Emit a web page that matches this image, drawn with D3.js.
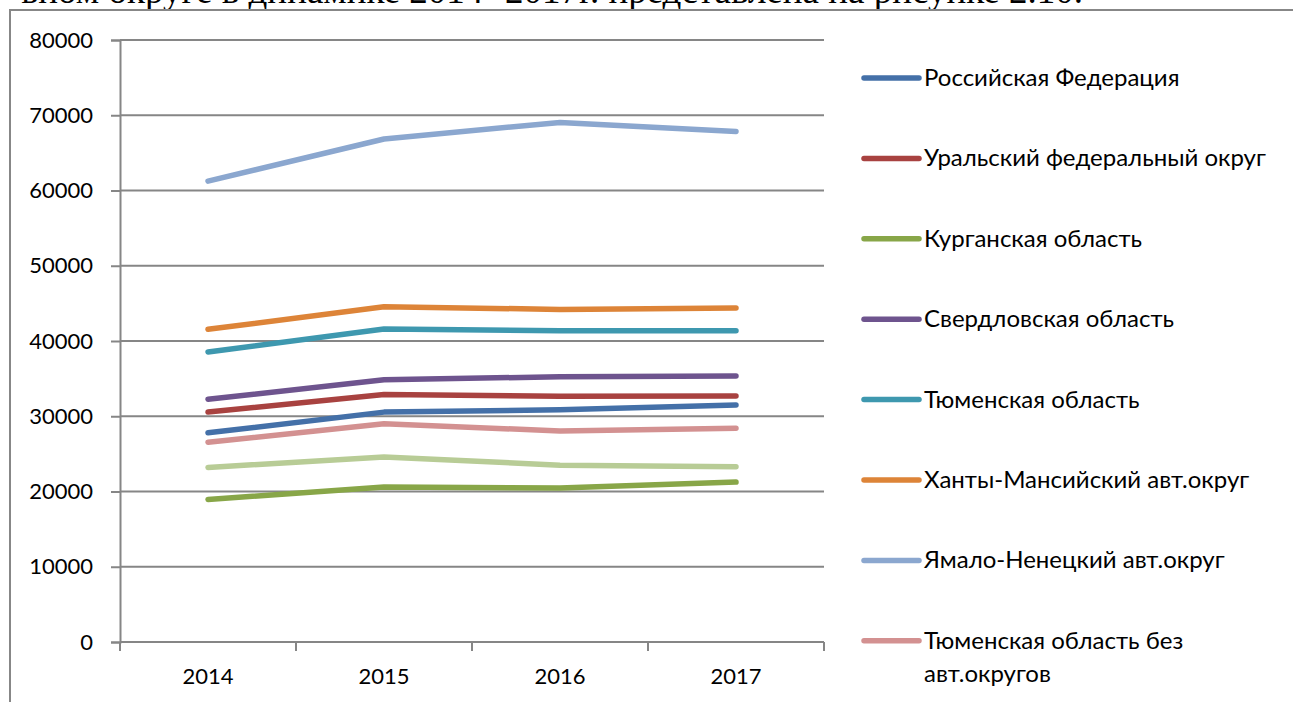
<!DOCTYPE html>
<html>
<head>
<meta charset="utf-8">
<script src="https://cdn.jsdelivr.net/npm/d3@7"></script>
<style>
  html, body { margin: 0; padding: 0; background: #fff; }
  svg { display: block; }
</style>
</head>
<body>
<svg id="chart" width="1293" height="702"></svg>
<script>
const years = ["2014", "2015", "2016", "2017"];
const yTicks = [0, 10000, 20000, 30000, 40000, 50000, 60000, 70000, 80000];

const seriesNames = [
  "Российская Федерация",
  "Уральский федеральный округ",
  "Курганская область",
  "Свердловская область",
  "Тюменская область",
  "Ханты-Мансийский авт.округ",
  "Ямало-Ненецкий авт.округ",
  "Тюменская область без авт.округов",
  "Челябинская область"
];
const rf      = [27800, 30550, 30850, 31500];
const urfo    = [30550, 32900, 32650, 32700];
const kurgan  = [18950, 20600, 20450, 21250];
const sverdl  = [32250, 34850, 35250, 35350];
const tyumen  = [38550, 41600, 41350, 41350];
const hmao    = [41550, 44550, 44200, 44400];
const yanao   = [61250, 66850, 69050, 67850];
const tyumenNoAO = [26550, 29000, 28050, 28400];
const chel    = [23200, 24600, 23500, 23300];
const seriesValues = [rf, urfo, kurgan, sverdl, tyumen, hmao, yanao, tyumenNoAO, chel];
const colors = ["#4470A8", "#A84240", "#88A648", "#6E548E", "#3E98AF", "#DD8438", "#8BA7CF", "#D39191", "#B8CC96"];
const legendCount = 8;

(function () {
const svg = d3.select("#chart");
const font = "Lato, 'Open Sans', sans-serif";

// heading text (cut off by the top of the page, as in the source)
svg.append("text")
  .attr("x", 1083).attr("y", 3)
  .attr("text-anchor", "end")
  .attr("font-family", "'Liberation Serif', 'Times New Roman', serif")
  .attr("font-size", 37)
  .attr("fill", "#000")
  .text("ьном округе в динамике 2014 -2017г. представлена на рисунке 2.10.");

// chart frame
svg.append("path")
  .attr("d", "M10,702 L10,10 L1293,10")
  .attr("fill", "none").attr("stroke", "#878787").attr("stroke-width", 2);

const pLeft = 120, pRight = 824, pTop = 40, pBottom = 642;
const x = d3.scaleBand().domain(years).range([pLeft, pRight]);
const y = d3.scaleLinear().domain([0, 80000]).range([pBottom, pTop]);

// y axis
const yAxis = d3.axisLeft(y).tickValues(yTicks).tickSize(9).tickPadding(18)
  .tickFormat(d3.format("d"));
const gy = svg.append("g").attr("transform", `translate(${pLeft},0)`).call(yAxis);
gy.select(".domain").attr("stroke", "#868686").attr("stroke-width", 2);
gy.selectAll(".tick line").attr("stroke", "#868686").attr("stroke-width", 2);
gy.selectAll(".tick text").attr("font-family", font).attr("font-size", 22).attr("fill", "#000");

// gridlines
svg.append("g").selectAll("line").data(yTicks.filter(d => d > 0)).join("line")
  .attr("x1", pLeft).attr("x2", pRight)
  .attr("y1", d => y(d)).attr("y2", d => y(d))
  .attr("stroke", "#868686").attr("stroke-width", 2);

// x axis
const gx = svg.append("g").attr("transform", `translate(0,${pBottom})`)
  .call(d3.axisBottom(x).tickSize(0).tickPadding(26));
gx.select(".domain").remove();
gx.selectAll(".tick text").attr("font-family", font).attr("font-size", 22).attr("fill", "#000");
svg.append("line").attr("x1", pLeft).attr("x2", pRight).attr("y1", pBottom).attr("y2", pBottom)
  .attr("stroke", "#868686").attr("stroke-width", 2);
const bounds = years.map(d => x(d)).concat([pRight]);
svg.append("g").selectAll("line").data(bounds).join("line")
  .attr("x1", d => d).attr("x2", d => d).attr("y1", pBottom).attr("y2", pBottom + 9)
  .attr("stroke", "#868686").attr("stroke-width", 2);

// lines
const line = d3.line().x((d, i) => x(years[i]) + x.bandwidth() / 2).y(d => y(d));
svg.append("g").selectAll("path").data(seriesValues).join("path")
  .attr("d", d => line(d))
  .attr("fill", "none")
  .attr("stroke", (d, i) => colors[i])
  .attr("stroke-width", 5.5)
  .attr("stroke-linecap", "round")
  .attr("stroke-linejoin", "round");

// legend
const lg = svg.append("g");
const rowY = i => 78 + i * 80.4;
for (let i = 0; i < legendCount; i++) {
  lg.append("line")
    .attr("x1", 864).attr("x2", 919).attr("y1", rowY(i)).attr("y2", rowY(i))
    .attr("stroke", colors[i]).attr("stroke-width", 5.5).attr("stroke-linecap", "round");
  const t = lg.append("text")
    .attr("x", 924).attr("y", rowY(i) + 8)
    .attr("font-family", font).attr("font-size", 24).attr("fill", "#000");
  if (i === 7) {
    t.append("tspan").attr("x", 924).text("Тюменская область без");
    t.append("tspan").attr("x", 924).attr("dy", 33).text("авт.округов");
  } else {
    t.text(seriesNames[i]);
  }
}
})();
</script>
</body>
</html>
